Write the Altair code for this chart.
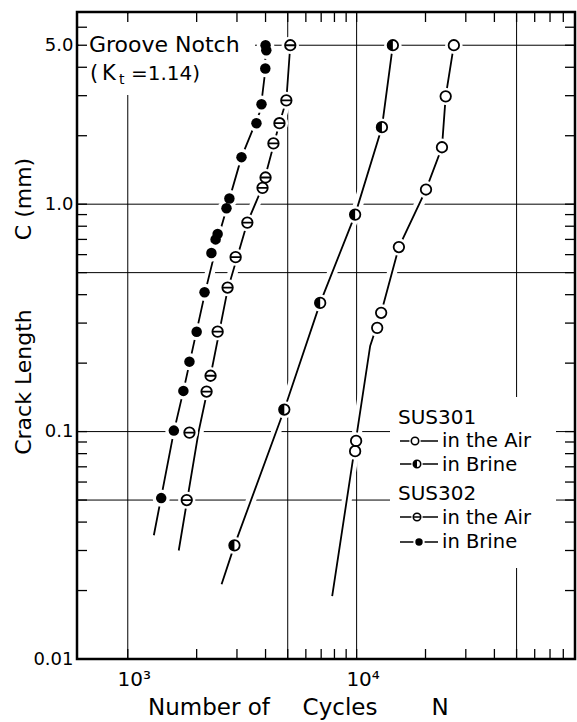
import altair as alt
import pandas as pd

FONT = "DejaVu Sans"

# ---------------- data ----------------
# SUS302 in Brine (filled circles)
s302b_N = [4000, 4030, 3990, 3840, 3650, 3140, 2780, 2700, 2470, 2420, 2320, 2165, 2000, 1860, 1750, 1590, 1400]
s302b_C = [5.0, 4.75, 3.95, 2.75, 2.27, 1.61, 1.06, 0.96, 0.74, 0.70, 0.61, 0.41, 0.275, 0.203, 0.151, 0.101, 0.051]
s302b_lineN = [3990, 3990, 3800, 3140, 2540, 2190, 1750, 1590, 1300]
s302b_lineC = [5.05, 3.87, 2.58, 1.61, 0.77, 0.42, 0.151, 0.10, 0.035]

# SUS302 in the Air (circles with a bar)
s302a_N = [5130, 4930, 4600, 4330, 4000, 3880, 3330, 2960, 2730, 2470, 2300, 2210, 1860, 1810]
s302a_C = [5.0, 2.86, 2.27, 1.85, 1.31, 1.18, 0.83, 0.585, 0.43, 0.275, 0.176, 0.15, 0.099, 0.050]
s302a_lineN = [5130, 4930, 4600, 3875, 3330, 2730, 2300, 2040, 1670]
s302a_lineC = [5.0, 2.86, 2.27, 1.19, 0.83, 0.42, 0.176, 0.10, 0.030]

# SUS301 in Brine (half-filled circles)
s301b_N = [14400, 12900, 9850, 6930, 4830, 2925]
s301b_C = [5.0, 2.18, 0.90, 0.368, 0.125, 0.0316]
s301b_lineN = [14400, 12900, 9850, 6930, 4830, 2925, 2570]
s301b_lineC = [5.0, 2.18, 0.90, 0.368, 0.125, 0.0316, 0.0213]

# SUS301 in the Air (open circles)
s301a_N = [26600, 24500, 23600, 20100, 15300, 12800, 12300, 9950, 9850]
s301a_C = [5.0, 2.98, 1.78, 1.16, 0.648, 0.333, 0.286, 0.091, 0.082]
s301a_lineN = [26600, 24500, 23600, 20100, 15300, 12800, 11460, 7820]
s301a_lineC = [5.0, 2.98, 1.78, 1.16, 0.648, 0.333, 0.238, 0.0189]

# grid and ticks
x_grid = [1000, 5000, 10000, 50000]
y_grid = [0.05, 0.1, 0.5, 1.0, 5.0]
x_ticks = [1000, 2000, 3000, 4000, 5000, 6000, 7000, 8000, 9000,
           10000, 20000, 30000, 40000, 50000, 60000, 70000, 80000]
y_ticks = [0.02, 0.03, 0.04, 0.05, 0.06, 0.07, 0.08, 0.09,
           0.1, 0.2, 0.3, 0.4, 0.5, 0.6, 0.7, 0.8, 0.9,
           1, 2, 3, 4, 5, 6]
x_label_values = [1000, 10000]
y_label_values = [0.01, 0.1, 1, 5]

# ---------------- build ----------------
W, H = 498, 647

xs = alt.Scale(type="log", domain=[600, 90000], nice=False)
ys = alt.Scale(type="log", domain=[0.01, 7], nice=False)
xaxis = alt.Axis(values=x_label_values,
                 labelExpr="datum.value == 1000 ? '10³' : '10⁴'",
                 ticks=False, tickSize=0, domain=False, grid=False, title=None,
                 labelFont=FONT, labelFontSize=20, labelColor="black",
                 labelPadding=26, labelBaseline="alphabetic", labelOffset=6, labelFlush=False)
yaxis = alt.Axis(values=y_label_values,
                 labelExpr="datum.value == 5 ? '5.0' : datum.value == 1 ? '1.0' : datum.value == 0.1 ? '0.1' : '0.01'",
                 ticks=False, tickSize=0, domain=False, grid=False, title=None,
                 labelFont=FONT, labelFontSize=18, labelColor="black", labelPadding=4)

X = alt.X("N:Q", scale=xs, axis=xaxis)
Y = alt.Y("C:Q", scale=ys, axis=yaxis)


def series_df(name, Ns, Cs):
    return pd.DataFrame({"series": name, "N": Ns, "C": Cs, "idx": range(len(Ns))})


lines_df = pd.concat([
    series_df("302b", s302b_lineN, s302b_lineC),
    series_df("302a", s302a_lineN, s302a_lineC),
    series_df("301b", s301b_lineN, s301b_lineC),
    series_df("301a", s301a_lineN, s301a_lineC),
])
p302b = series_df("302b", s302b_N, s302b_C)
p302a = series_df("302a", s302a_N, s302a_C)
p301b = series_df("301b", s301b_N, s301b_C)
p301a = series_df("301a", s301a_N, s301a_C)
pts_all = pd.concat([p302b, p302a, p301b, p301a])

dummy = pd.DataFrame({"d": [0]})

THETA = "M-1,0A1,1,0,1,1,1,0A1,1,0,1,1,-1,0ZM-1,0L1,0"
HALF = "M0,-1A1,1,0,0,0,0,1Z"
MS = 110
SW = 1.8

layers = []
# grid lines
layers.append(alt.Chart(pd.DataFrame({"N": x_grid})).mark_rule(color="black", strokeWidth=1).encode(x=X))
layers.append(alt.Chart(pd.DataFrame({"C": y_grid})).mark_rule(color="black", strokeWidth=1).encode(y=Y))


# white backgrounds behind annotation blocks
def white_box(x1, x2, y1, y2):
    return alt.Chart(dummy).mark_rect(color="white").encode(
        x=alt.value(x1), x2=alt.value(x2), y=alt.value(y1), y2=alt.value(y2))


layers.append(white_box(2, 178, 2, 83))
layers.append(white_box(313, 479, 385, 556))

# ticks (inward, all four sides)
xt = pd.DataFrame({"N": x_ticks})
yt = pd.DataFrame({"C": y_ticks})
layers.append(alt.Chart(xt).mark_rule(color="black", strokeWidth=1.3).encode(x=X, y=alt.value(0), y2=alt.value(10)))
layers.append(alt.Chart(xt).mark_rule(color="black", strokeWidth=1.3).encode(x=X, y=alt.value(H - 10), y2=alt.value(H)))
layers.append(alt.Chart(yt).mark_rule(color="black", strokeWidth=1.3).encode(y=Y, x=alt.value(0), x2=alt.value(10)))
layers.append(alt.Chart(yt).mark_rule(color="black", strokeWidth=1.3).encode(y=Y, x=alt.value(W - 10), x2=alt.value(W)))

# curves: white halo then black line
layers.append(alt.Chart(lines_df).mark_line(color="white", strokeWidth=10).encode(
    x=X, y=Y, detail="series:N", order="idx:Q"))
layers.append(alt.Chart(lines_df).mark_line(color="black", strokeWidth=SW).encode(
    x=X, y=Y, detail="series:N", order="idx:Q"))

# point halos
layers.append(alt.Chart(pts_all).mark_point(shape="circle", filled=True, color="white", size=300, opacity=1).encode(x=X, y=Y))

# markers
layers.append(alt.Chart(p302b).mark_point(shape="circle", filled=True, color="black", size=MS, opacity=1).encode(x=X, y=Y))
layers.append(alt.Chart(p302a).mark_point(shape=THETA, filled=False, color="black", size=MS, strokeWidth=SW, opacity=1).encode(x=X, y=Y))
layers.append(alt.Chart(p301b).mark_point(shape="circle", filled=False, color="black", size=MS, strokeWidth=SW, opacity=1).encode(x=X, y=Y))
layers.append(alt.Chart(p301b).mark_point(shape=HALF, filled=True, color="black", size=MS, opacity=1).encode(x=X, y=Y))
layers.append(alt.Chart(p301a).mark_point(shape="circle", filled=False, color="black", size=MS, strokeWidth=SW, opacity=1).encode(x=X, y=Y))


def txt(s, x, y, size=20, align="left", baseline="alphabetic", angle=0):
    kw = dict(text=s, font=FONT, fontSize=size, align=align, baseline=baseline, color="black")
    if angle:
        kw["angle"] = angle
    return alt.Chart(dummy).mark_text(**kw).encode(x=alt.value(x), y=alt.value(y))


# annotation: Groove Notch (Kt = 1.14)
layers.append(txt("Groove Notch", 12, 40, 22))
layers.append(txt("(", 13, 68, 21))
layers.append(txt("K", 25, 68, 21))
layers.append(txt("t", 42, 72, 14))
layers.append(txt("=1.14)", 54, 68, 20))


# legend
def leg_row(xm, y, shape, filled, ybase, label):
    out = []
    out.append(alt.Chart(dummy).mark_rule(color="black", strokeWidth=1.6).encode(
        x=alt.value(323), x2=alt.value(361), y=alt.value(y)))
    out.append(alt.Chart(dummy).mark_point(shape="circle", filled=True, color="white", size=130, opacity=1).encode(
        x=alt.value(xm), y=alt.value(y)))
    if shape == "half":
        out.append(alt.Chart(dummy).mark_point(shape="circle", filled=False, color="black", size=55, strokeWidth=1.6, opacity=1).encode(
            x=alt.value(xm), y=alt.value(y)))
        out.append(alt.Chart(dummy).mark_point(shape=HALF, filled=True, color="black", size=55, opacity=1).encode(
            x=alt.value(xm), y=alt.value(y)))
    else:
        out.append(alt.Chart(dummy).mark_point(shape=shape, filled=filled, color="black", size=55, strokeWidth=1.6, opacity=1).encode(
            x=alt.value(xm), y=alt.value(y)))
    out.append(txt(label, 365, ybase, 19.5))
    return out


layers.append(txt("SUS301", 321, 412, 20))
layers += leg_row(338, 429, "circle", False, 435, "in the Air")
layers += leg_row(340, 452, "half", True, 459, "in Brine")
layers.append(txt("SUS302", 321, 488, 20))
layers += leg_row(340, 505, THETA, False, 512, "in the Air")
layers += leg_row(342, 530, "circle", True, 536, "in Brine")

# axis titles
layers.append(txt("C (mm)", -46, 187, 22, align="center", angle=270))
layers.append(txt("Crack Length", -46, 370, 22, align="center", angle=270))
layers.append(txt("Number of", 132, 703, 23, align="center"))
layers.append(txt("Cycles", 263, 703, 23, align="center"))
layers.append(txt("N", 363, 703, 23, align="center"))

chart = alt.layer(*layers).properties(
    width=W, height=H,
    autosize=alt.AutoSizeParams(type="none"),
    padding={"left": 77, "top": 12, "right": 2, "bottom": 63},
    background="white",
).configure_view(stroke="black", strokeWidth=2.5)

chart.save("out.html", embed_options={"renderer": "svg", "actions": False})
